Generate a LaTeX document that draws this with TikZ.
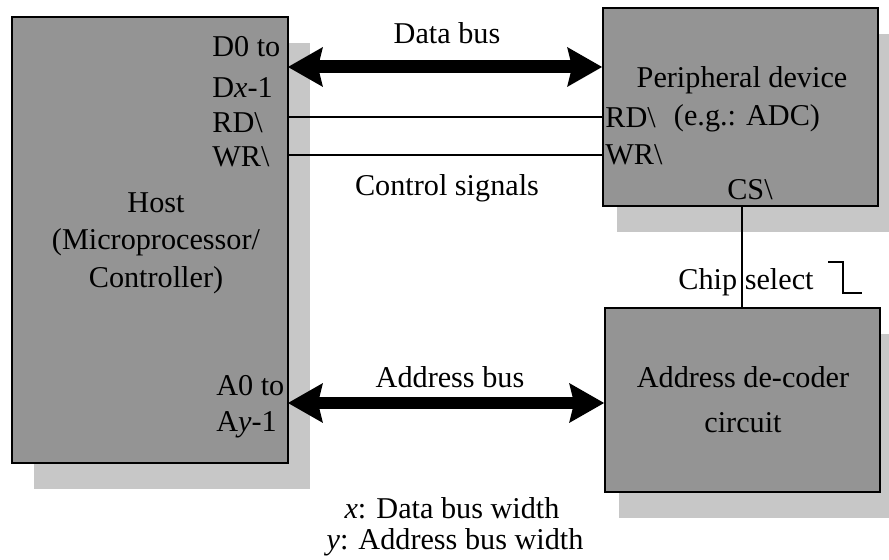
\documentclass[tikz,border=0pt]{standalone}
\usepackage{fontspec}
\setmainfont{Liberation Serif}
\usepackage{tikz}
\usetikzlibrary{arrows.meta, positioning, shadows}

\begin{document}
\begin{tikzpicture}[
        x=0.02cm, y=-0.02cm,
        font=\fontsize{17.2}{20}\selectfont,
        unit/.style={rectangle, draw, line width=1.1pt, fill=black!42, inner sep=0pt,
            drop shadow={shadow xshift=#1, shadow yshift=-0.52cm, fill=black!22, opacity=1}},
        bus/.style={line width=0.26cm,
            {Stealth[length=0.7cm, width=0.8cm, inset=0.1cm, line width=0pt]}-{Stealth[length=0.7cm, width=0.8cm, inset=0.1cm, line width=0pt]}},
        wire/.style={line width=1.1pt},
        pin/.style={inner sep=0pt, anchor=west}
    ]
        \useasboundingbox (0,0) rectangle (889,560);

        % Host
        \node[unit=0.44cm, minimum width=5.52cm, minimum height=8.92cm] (host) at (150,240) {};
        \node[pin] (d0) at (212,47) {D0 to};
        \node[pin] (dx) at (212,88) {D\textit{x}-1};
        \node[pin] (rdh) at (212,123) {RD\textbackslash};
        \node[pin] (wrh) at (212,157) {WR\textbackslash};
        \node (hname) at (156,203) {Host};
        \node (hsub1) at (156,242) {(Microprocessor/};
        \node (hsub2) at (156,280) {Controller)};
        \node[pin] (a0) at (216,386) {A0 to};
        \node[pin] (ay) at (216,425) {A\textit{y}-1};

        % Peripheral device
        \node[unit=0.28cm, minimum width=5.5cm, minimum height=3.96cm] (periph) at (740.5,107) {};
        \node (pname) at (742,80) {Peripheral device};
        \node (pex) at (747,118) {(e.g.: ADC)};
        \node[pin] (rdp) at (605,118) {RD\textbackslash};
        \node[pin] (wrp) at (605,155) {WR\textbackslash};
        \node (cs) at (750,190) {CS\textbackslash};

        % Address decoder
        \node[unit=0.28cm, minimum width=5.5cm, minimum height=3.68cm] (dec) at (742.5,400) {};
        \node (dname) at (743,377) {Address de-coder};
        \node (dsub) at (743,423) {circuit};

        % Buses and signals
        \coordinate (dbus) at (288,67);
        \coordinate (ctl1) at (288,117);
        \coordinate (ctl2) at (288,155);
        \coordinate (abus) at (288,403);
        \draw[bus] (dbus) -- (dbus -| periph.west);
        \draw[wire] (ctl1) -- (ctl1 -| periph.west);
        \draw[wire] (ctl2) -- (ctl2 -| periph.west);
        \draw[bus] (abus) -- (abus -| dec.west);
        \draw[wire] (periph.south -| 742,0) -- (dec.north -| 742,0);

        \node (dbl) at (447,33) {Data bus};
        \node (ctl) at (447,188) {Control signals};
        \node (abl) at (450,377) {Address bus};
        \node (csl) at (746,282) {Chip select};
        \draw[line width=0.85pt] (828,262) -- (843,262) -- (843,293) -- (862,293);

        % Notes
        \node (nx) at (452,508) {\textit{x}: Data bus width};
        \node (ny) at (455,542) {\textit{y}: Address bus width};
    \end{tikzpicture}
\end{document}
